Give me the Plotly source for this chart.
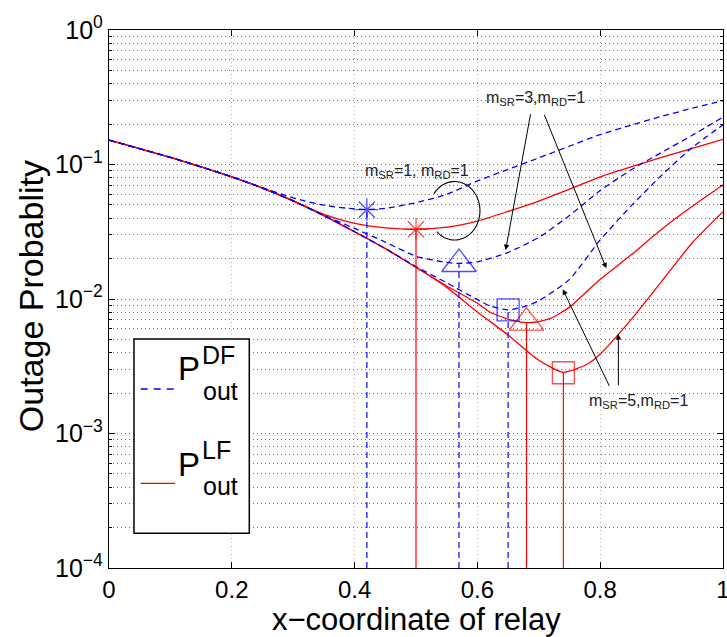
import numpy as np
import plotly.graph_objects as go

FONT = "Liberation Sans, Arial, Helvetica, sans-serif"

# ---- outage probability vs relay x-coordinate ----
# decode-and-forward (DF), m_SR = 1, m_RD = 1
x_df1 = [0, 0.05, 0.1, 0.15, 0.2, 0.25, 0.3, 0.35, 0.4, 0.42, 0.45, 0.5, 0.55,
         0.6, 0.65, 0.7, 0.75, 0.8, 0.85, 0.9, 0.95, 1.0]
p_df1 = [0.152, 0.131, 0.113, 0.096, 0.081, 0.0672, 0.0565, 0.0498, 0.0467,
         0.0463, 0.0472, 0.052, 0.060, 0.0755, 0.092, 0.112, 0.137, 0.167,
         0.196, 0.228, 0.262, 0.298]

# linear-forward (LF), m_SR = 1, m_RD = 1
x_lf1 = [0, 0.05, 0.1, 0.15, 0.2, 0.25, 0.3, 0.35, 0.4, 0.45, 0.5, 0.55, 0.6,
         0.65, 0.7, 0.75, 0.8, 0.85, 0.9, 0.95, 1.0]
p_lf1 = [0.152, 0.131, 0.113, 0.096, 0.081, 0.0668, 0.0537, 0.0425, 0.0365,
         0.0338, 0.0330, 0.0342, 0.0380, 0.0448, 0.0535, 0.0655, 0.0810,
         0.0960, 0.113, 0.132, 0.154]

# DF, m_SR = 3, m_RD = 1
x_df3 = [0, 0.05, 0.1, 0.15, 0.2, 0.25, 0.3, 0.35, 0.4, 0.45, 0.5, 0.55, 0.57,
         0.6, 0.65, 0.7, 0.75, 0.8, 0.85, 0.9, 0.95, 1.0]
p_df3 = [0.152, 0.131, 0.113, 0.096, 0.081, 0.0668, 0.0537, 0.0418, 0.0335,
         0.0265, 0.0208, 0.0187, 0.0184, 0.0189, 0.0222, 0.0287, 0.0418,
         0.064, 0.091, 0.123, 0.165, 0.225]

# LF, m_SR = 3, m_RD = 1
x_lf3 = [0, 0.05, 0.1, 0.15, 0.2, 0.25, 0.3, 0.35, 0.4, 0.45, 0.5, 0.55, 0.6,
         0.62, 0.65, 0.68, 0.7, 0.72, 0.75, 0.8, 0.85, 0.9, 0.95, 1.0]
p_lf3 = [0.152, 0.131, 0.113, 0.096, 0.081, 0.0668, 0.0537, 0.0417, 0.0316,
         0.0237, 0.0172, 0.0125, 0.0093, 0.0080, 0.0071, 0.00667, 0.0068,
         0.0072, 0.0087, 0.0140, 0.0212, 0.0330, 0.049, 0.0704]

# DF, m_SR = 5, m_RD = 1
x_df5 = [0, 0.05, 0.1, 0.15, 0.2, 0.25, 0.3, 0.35, 0.4, 0.45, 0.5, 0.55, 0.6,
         0.62, 0.65, 0.68, 0.7, 0.75, 0.8, 0.85, 0.9, 0.95, 1.0]
p_df5 = [0.152, 0.131, 0.113, 0.096, 0.081, 0.0668, 0.0537, 0.0417, 0.0316,
         0.0237, 0.0174, 0.0132, 0.0099, 0.0089, 0.0083, 0.0089, 0.0097,
         0.0140, 0.0275, 0.049, 0.083, 0.134, 0.197]

# LF, m_SR = 5, m_RD = 1
x_lf5 = [0, 0.05, 0.1, 0.15, 0.2, 0.25, 0.3, 0.35, 0.4, 0.45, 0.5, 0.55, 0.6,
         0.65, 0.7, 0.74, 0.78, 0.8, 0.85, 0.9, 0.95, 1.0]
p_lf5 = [0.152, 0.131, 0.113, 0.096, 0.081, 0.0668, 0.0537, 0.0417, 0.0316,
         0.0237, 0.0172, 0.0122, 0.0080, 0.0054, 0.0035, 0.00285, 0.0033,
         0.0039, 0.0070, 0.0135, 0.0262, 0.0446]

# optimal relay positions (stems) and their outage probabilities
opt_x_df = [0.42, 0.57, 0.65]
opt_p_df = [0.0462, 0.0182, 0.0083]
opt_sym_df = ["asterisk-open", "triangle-up-open", "square-open"]
opt_size_df = [19, 30, 22]

opt_x_lf = [0.50, 0.68, 0.74]
opt_p_lf = [0.0330, 0.00667, 0.00283]
opt_sym_lf = ["asterisk-open", "triangle-up-open", "square-open"]
opt_size_lf = [19, 30, 22]

# y axis decades
y_tickvals = [1e-4, 1e-3, 1e-2, 1e-1, 1]
y_ticktext = ["10<sup>\u22124</sup>", "10<sup>\u22123</sup>", "10<sup>\u22122</sup>",
              "10<sup>\u22121</sup>", "10<sup>0</sup>"]
y_minor = [k * 10.0 ** e for e in range(-4, 0) for k in range(2, 10)]
x_tickvals = [0, 0.2, 0.4, 0.6, 0.8, 1]
x_ticktext = ["0", "0.2", "0.4", "0.6", "0.8", "1"]

BASE = 1e-4
BLUE = "#0000ff"
RED = "#ff0000"
DASH = "6px,4px"

fig = go.Figure()

# LF curves (solid red)
for xs, ps, nm in [(x_lf1, p_lf1, "LF m_SR=1"), (x_lf3, p_lf3, "LF m_SR=3"),
                   (x_lf5, p_lf5, "LF m_SR=5")]:
    fig.add_trace(go.Scatter(x=xs, y=ps, mode="lines", name=nm, showlegend=False,
                             line=dict(color=RED, width=1.3, shape="spline", smoothing=0.6),
                             hoverinfo="skip"))

# DF curves (dashed blue)
for xs, ps, nm in [(x_df1, p_df1, "DF m_SR=1"), (x_df3, p_df3, "DF m_SR=3"),
                   (x_df5, p_df5, "DF m_SR=5")]:
    fig.add_trace(go.Scatter(x=xs, y=ps, mode="lines", name=nm, showlegend=False,
                             line=dict(color=BLUE, width=1.3, dash=DASH, shape="spline",
                                       smoothing=0.6),
                             hoverinfo="skip"))


def stems(xs, ps):
    sx, sy = [], []
    for xv, pv in zip(xs, ps):
        sx += [xv, xv, None]
        sy += [BASE, pv, None]
    return sx, sy


sx, sy = stems(opt_x_lf, opt_p_lf)
fig.add_trace(go.Scatter(x=sx, y=sy, mode="lines", showlegend=False, hoverinfo="skip",
                         line=dict(color=RED, width=1.2)))
sx, sy = stems(opt_x_df, opt_p_df)
fig.add_trace(go.Scatter(x=sx, y=sy, mode="lines", showlegend=False, hoverinfo="skip",
                         line=dict(color=BLUE, width=1.2, dash=DASH)))

fig.add_trace(go.Scatter(x=opt_x_lf, y=opt_p_lf, mode="markers", showlegend=False,
                         marker=dict(symbol=opt_sym_lf, size=opt_size_lf, color=RED,
                                     line=dict(color=RED, width=1.3))))
fig.add_trace(go.Scatter(x=opt_x_df, y=opt_p_df, mode="markers", showlegend=False,
                         marker=dict(symbol=opt_sym_df, size=opt_size_df, color=BLUE,
                                     line=dict(color=BLUE, width=1.3))))

GRID_Y = "rgba(60,60,60,0.75)"
GRID_X = "rgba(120,120,120,0.6)"

fig.update_xaxes(range=[0, 1], tickvals=x_tickvals, ticktext=x_ticktext,
                 showline=True, linecolor="black", linewidth=1.4, mirror="allticks",
                 ticks="inside", ticklen=6, tickcolor="black", tickwidth=1,
                 ticklabelstandoff=0, ticklabeloverflow="allow",
                 showgrid=True, gridcolor=GRID_X, griddash="1px,3px", gridwidth=1,
                 zeroline=False, tickfont=dict(family=FONT, size=24, color="black"))
fig.update_yaxes(type="log", range=[-4, 0], tickvals=y_tickvals, ticktext=y_ticktext,
                 showline=True, linecolor="black", linewidth=1.4, mirror="allticks",
                 ticks="inside", ticklen=6, tickcolor="black", tickwidth=1,
                 showgrid=True, gridcolor=GRID_Y, griddash="1px,3px", gridwidth=1,
                 zeroline=False, tickfont=dict(family=FONT, size=25, color="black"),
                 minor=dict(tickvals=y_minor, ticks="inside", ticklen=3, tickcolor="black",
                            showgrid=True, gridcolor=GRID_Y, griddash="1px,3px", gridwidth=1))

annotations = []
# axis titles
annotations.append(dict(xref="paper", yref="paper", x=0.5, y=-0.0957, showarrow=False,
                        xanchor="center", yanchor="middle",
                        text="x\u2212coordinate of relay",
                        font=dict(family=FONT, size=31, color="black")))
annotations.append(dict(xref="paper", yref="paper", x=-0.128, y=0.506, showarrow=False,
                        xanchor="center", yanchor="middle", textangle=-90,
                        text="Outage Probablity",
                        font=dict(family=FONT, size=34, color="black")))

# curve labels
LBL = dict(family=FONT, size=16, color="#222")
annotations.append(dict(x=0.695, y=-0.508, xref="x", yref="y", showarrow=False,
                        text="m<sub>SR</sub>=3,m<sub>RD</sub>=1", font=LBL))
annotations.append(dict(x=0.5015, y=-1.054, xref="x", yref="y", showarrow=False,
                        text="m<sub>SR</sub>=1, m<sub>RD</sub>=1", font=LBL))
annotations.append(dict(x=0.862, y=-2.764, xref="x", yref="y", showarrow=False,
                        text="m<sub>SR</sub>=5,m<sub>RD</sub>=1", font=LBL))

# arrows: (head x, head log10 y, tail x, tail log10 y)
arrows = [
    (0.646, -1.636, 0.687, -0.615),
    (0.810, -1.772, 0.708, -0.619),
    (0.739, -1.928, 0.816, -2.657),
    (0.8296, -2.26, 0.8296, -2.652),
]
for hx, hy, tx, ty in arrows:
    annotations.append(dict(x=hx, y=hy, ax=tx, ay=ty, xref="x", yref="y",
                            axref="x", ayref="y", text="", showarrow=True,
                            arrowhead=2, arrowsize=1.1, arrowwidth=1,
                            arrowcolor="black", standoff=0, startstandoff=0))

# legend entries (drawn in paper coordinates)
annotations += [
    dict(xref="paper", yref="paper", x=0.1308, y=0.3708, text="P", showarrow=False,
         xanchor="center", yanchor="middle", font=dict(family=FONT, size=33, color="black")),
    dict(xref="paper", yref="paper", x=0.1490, y=0.3959, text="DF", showarrow=False,
         xanchor="left", yanchor="middle", font=dict(family=FONT, size=25, color="black")),
    dict(xref="paper", yref="paper", x=0.1506, y=0.3284, text="out", showarrow=False,
         xanchor="left", yanchor="middle", font=dict(family=FONT, size=25, color="black")),
    dict(xref="paper", yref="paper", x=0.1308, y=0.1933, text="P", showarrow=False,
         xanchor="center", yanchor="middle", font=dict(family=FONT, size=33, color="black")),
    dict(xref="paper", yref="paper", x=0.1490, y=0.2193, text="LF", showarrow=False,
         xanchor="left", yanchor="middle", font=dict(family=FONT, size=25, color="black")),
    dict(xref="paper", yref="paper", x=0.1506, y=0.1519, text="out", showarrow=False,
         xanchor="left", yanchor="middle", font=dict(family=FONT, size=25, color="black")),
]

shapes = [
    # legend frame
    dict(type="rect", xref="paper", yref="paper", x0=0.0407, x1=0.2285, y0=0.0645,
         y1=0.4257, line=dict(color="black", width=1.5), fillcolor="white", layer="above"),
    dict(type="line", xref="paper", yref="paper", x0=0.0516, x1=0.1075, y0=0.3327,
         y1=0.3327, line=dict(color=BLUE, width=1.3, dash="7px,6px"), layer="above"),
    dict(type="line", xref="paper", yref="paper", x0=0.0516, x1=0.1075, y0=0.1574,
         y1=0.1574, line=dict(color=RED, width=1.3), layer="above"),
]

# open ellipse marking the m_SR=1 pair of curves
ang = np.deg2rad(np.linspace(144, -134, 80))
ex, ey = 25.4 * np.cos(ang), 29.2 * np.sin(ang)
ell_path = "M" + " L".join(f"{a:.2f},{b:.2f}" for a, b in zip(ex, ey))
shapes.append(dict(type="path", xref="x", yref="y", xsizemode="pixel", ysizemode="pixel",
                   xanchor=0.5628, yanchor=0.0453, path=ell_path,
                   line=dict(color="black", width=1.1)))

fig.update_layout(
    width=727, height=637,
    margin=dict(l=109, r=4, t=30, b=69, autoexpand=False),
    paper_bgcolor="white", plot_bgcolor="white",
    showlegend=False,
    font=dict(family=FONT, color="black"),
    annotations=annotations, shapes=shapes,
)

fig.write_html("out.html")
